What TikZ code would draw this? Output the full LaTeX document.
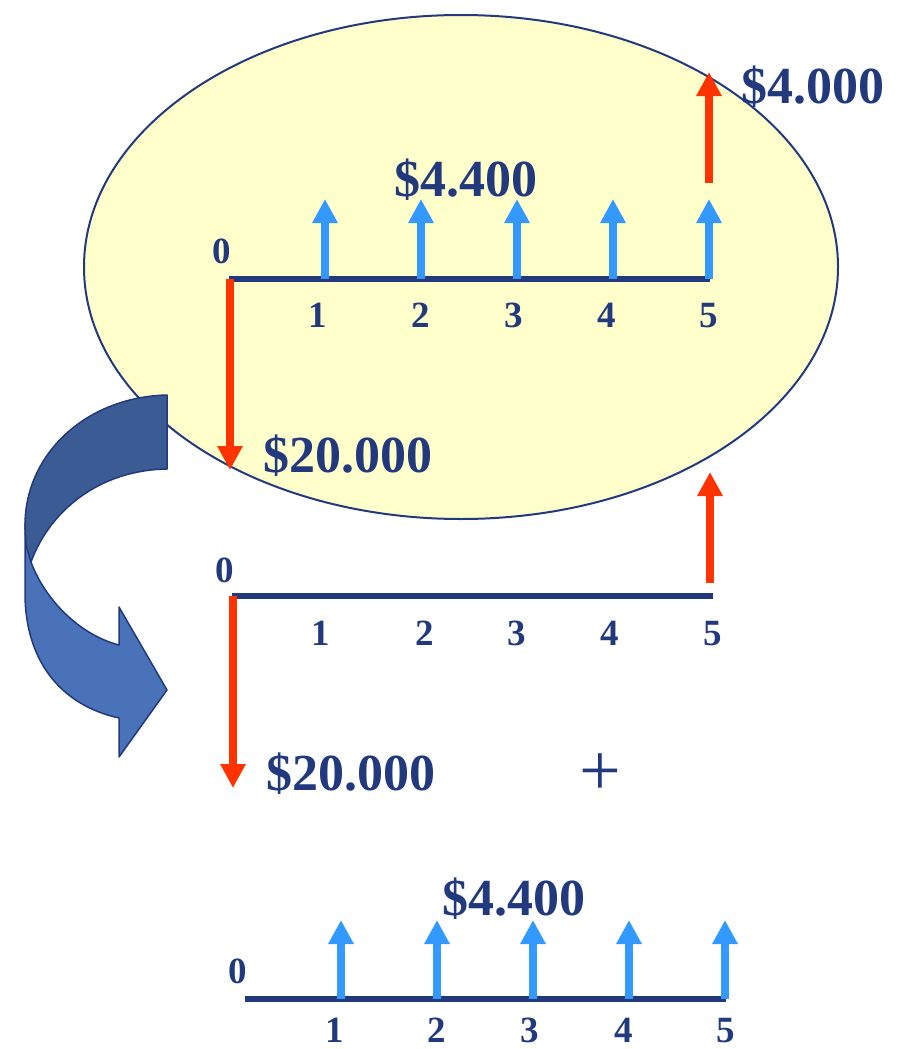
\documentclass[tikz,border=0pt]{standalone}
\usepackage{fontspec}
\setmainfont{Liberation Serif}
\usetikzlibrary{arrows.meta}
\definecolor{navy}{RGB}{35,57,126}
\definecolor{cfblue}{RGB}{51,153,255}
\definecolor{cfred}{RGB}{255,51,0}
\definecolor{elfill}{RGB}{255,255,204}
\definecolor{arrdark}{RGB}{59,91,149}
\definecolor{arrlight}{RGB}{74,114,184}
\begin{document}
\begin{tikzpicture}[x=1pt,y=-1pt,
  axisline/.style={navy, line width=6pt},
  bluearrow/.style={cfblue, line width=8pt, -{Triangle[width=24pt,length=24pt]}},
  redarrow/.style={cfred, line width=8pt, -{Triangle[width=24pt,length=24pt]}},
  ticklabel/.style={navy, font=\fontsize{37}{40}\selectfont\bfseries, inner sep=0pt, anchor=base},
  biglabel/.style={navy, font=\fontsize{52}{56}\selectfont\bfseries, inner sep=0pt, anchor=base},
  bendarrow/.style={draw=navy, line width=1.5pt, line join=round}]
\useasboundingbox (0,0) rectangle (899,1049);

% ellipse
\fill[elfill, draw=navy, line width=2pt] (461,267) ellipse [x radius=377pt, y radius=252pt];

% ---------- top diagram ----------
\coordinate (a0) at (229,279);
\coordinate (a5) at (710,279);
\draw[axisline] (a0) -- (a5);
\foreach \x/\n in {325/1,421/2,517/3,613/4,709/5}{
  \coordinate (tb\n) at (\x,279);
  \coordinate (tt\n) at (\x,199);
  \draw[bluearrow] (tb\n) -- (tt\n);
}
\coordinate (rd0) at (230,279);
\coordinate (rd1) at (230,470);
\draw[redarrow] (rd0) -- (rd1);
\coordinate (ru0) at (709,183);
\coordinate (ru1) at (709,72);
\draw[redarrow] (ru0) -- (ru1);
\node[ticklabel] (l0) at (222,263) {0};
\foreach \x/\n in {318/1,421/2,514/3,607/4,709/5}{
  \node[ticklabel] (l\n) at (\x,327) {\n};
}
\node[biglabel] (p1) at (466,196) {\$4.400};
\node[biglabel] (f1) at (813,103) {\$4.000};
\node[biglabel] (i1) at (348,472) {\$20.000};

% ---------- middle diagram ----------
\coordinate (b0) at (232,596);
\coordinate (b5) at (713,596);
\draw[axisline] (b0) -- (b5);
\coordinate (mrd0) at (233,596);
\coordinate (mrd1) at (233,788);
\draw[redarrow] (mrd0) -- (mrd1);
\coordinate (mru0) at (710,583);
\coordinate (mru1) at (710,472);
\draw[redarrow] (mru0) -- (mru1);
\node[ticklabel] (m0) at (225,582) {0};
\foreach \x/\n in {321/1,425/2,517/3,610/4,713/5}{
  \node[ticklabel] (m\n) at (\x,645) {\n};
}
\node[biglabel] (i2) at (351,790) {\$20.000};
\node[navy, font=\fontsize{74}{76}\selectfont, inner sep=0pt] (plus) at (600,775) {+};

% ---------- bottom diagram ----------
\coordinate (c0) at (245,999);
\coordinate (c5) at (726,999);
\draw[axisline] (c0) -- (c5);
\foreach \x/\n in {341/1,437/2,533/3,629/4,725/5}{
  \coordinate (bb\n) at (\x,999);
  \coordinate (bt\n) at (\x,920);
  \draw[bluearrow] (bb\n) -- (bt\n);
}
\node[ticklabel] (n0) at (238,983) {0};
\foreach \x/\n in {335/1,437/2,530/3,624/4,726/5}{
  \node[ticklabel] (n\n) at (\x,1042) {\n};
}
\node[biglabel] (p2) at (514,915) {\$4.400};

% ---------- curved arrow ----------
\filldraw[bendarrow, fill=arrlight]
  (25,523) -- (25,593) .. controls (25,660) and (60,705) .. (119,718)
  -- (119,757) -- (167,690) -- (119,607) -- (119,645)
  .. controls (80,635) and (45,600) .. (31,562) -- cycle;
\filldraw[bendarrow, fill=arrdark]
  (167,395) .. controls (85,397) and (25,455) .. (25,525)
  -- (26,545) -- (31,562)
  .. controls (50,510) and (100,470) .. (167,469) -- cycle;
\end{tikzpicture}
\end{document}
